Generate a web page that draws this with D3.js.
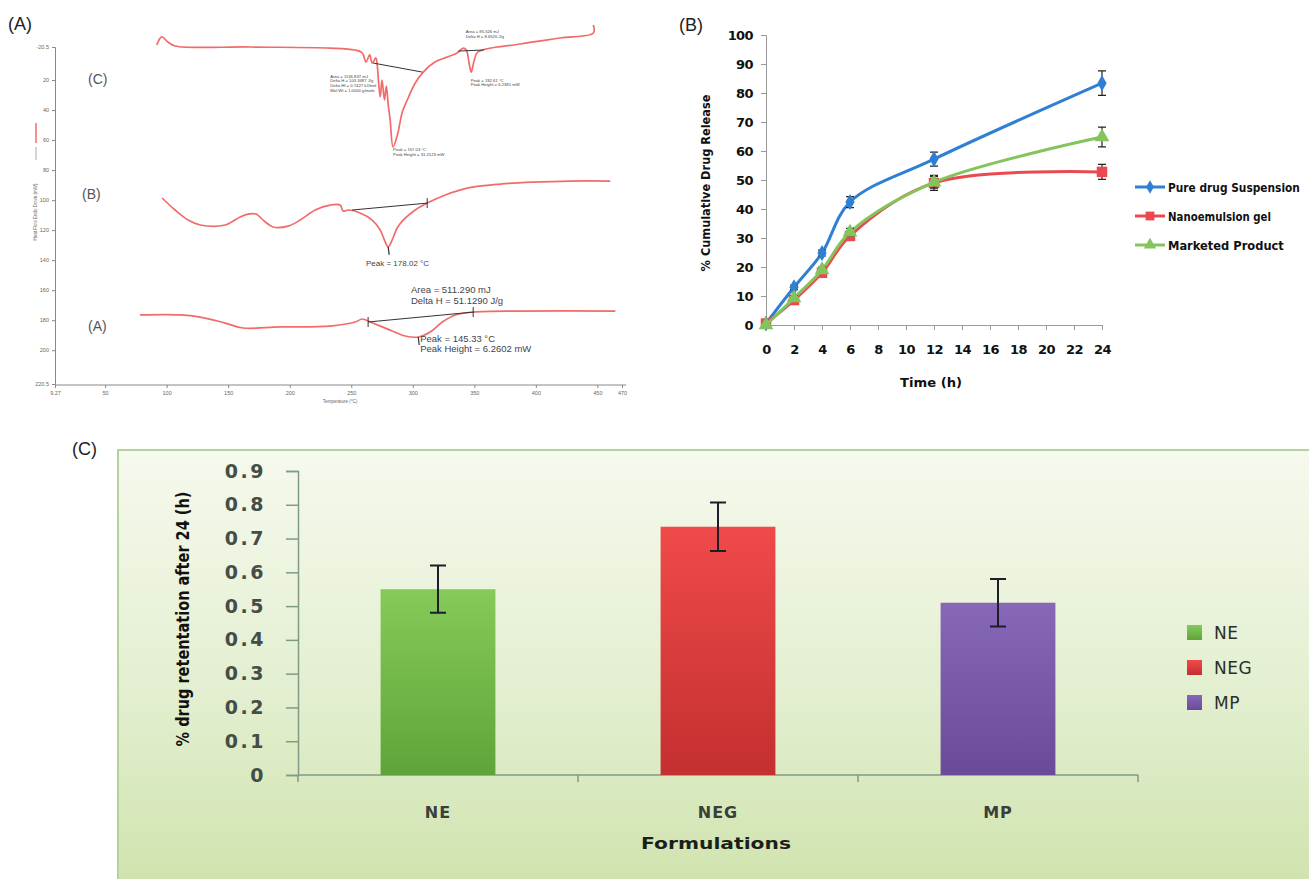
<!DOCTYPE html>
<html>
<head>
<meta charset="utf-8">
<script src="https://cdn.jsdelivr.net/npm/d3@7"></script>
<style>
  body { margin: 0; background: #fff; }
  svg { display: block; font-family: "Liberation Sans", Arial, sans-serif; }
</style>
</head>
<body>
<svg id="fig" width="1309" height="879"></svg>
<script>
// ---------- (A) DSC thermograms : [temperature, heat flow] ----------
var dscTempTicks = [9.27, 50, 100, 150, 200, 250, 300, 350, 400, 450, 470];
var dscFlowTicks = [-2, 20, 40, 60, 80, 100, 120, 140, 160, 180, 200, 222.5];
var dscFlowLabels = ["-20.5", "20", "40", "60", "80", "100", "120", "140", "160", "180", "200", "220.5"];

var dscCurveC = [[92, -3.3], [96, -8.7], [101, -5.3], [107, -2.7], [168, -2], [233, -1.3], [253, 0],
  [259, 2], [262, 8], [265, 3.3], [267, 8.7], [270, 5.3], [271, 9.3], [273.5, 31.3], [275, 20],
  [277, 33.3], [278.5, 24], [280, 36], [281.6, 46.6], [284, 64.6], [287.5, 56.6], [291.5, 41.3],
  [295.5, 33.3], [302, 22], [308.5, 14.7], [318, 8], [328, 4.7], [336, 2], [341, -1.3], [343.5, 0],
  [346, 10], [347.5, 14.7], [350, 6.7], [353, 1.3], [387.3, -4], [419.8, -8], [446.7, -11.3], [446.7, -16.7]];
var dscCurveB = [[96.3, 98.6], [106.8, 106.6], [117.4, 113.3], [127.2, 116.6], [147.5, 116.6], [159.7, 111.3],
  [166.2, 109.3], [172.7, 109.3], [179.2, 113.9], [186.5, 117.9], [198.7, 117.3], [208.5, 113.3],
  [220.7, 106.6], [232.8, 103.3], [241, 103.3], [243.4, 107.3], [247.5, 106.6], [257.2, 108.6],
  [267, 113.3], [273.5, 119.9], [277.6, 127.9], [280, 131.2], [283.3, 126.5], [287.3, 118.6],
  [292.2, 113.3], [302, 106.6], [311.7, 102], [326.4, 96.6], [344.2, 92], [371, 89.3], [398, 88],
  [428, 87.3], [460.5, 87.3]];
var dscCurveA = [[78.4, 176.5], [110.9, 176.5], [127.2, 177.9], [147.5, 181.9], [162.1, 185.2], [192, 184.5],
  [232.8, 183.9], [253.2, 181.2], [259, 179.2], [265.4, 181.2], [281.6, 186.6], [293.8, 190.5],
  [304.4, 191.2], [314.1, 187.9], [324, 181.2], [334.5, 176.5], [349.1, 174.6], [387.3, 173.9], [464.6, 173.9]];
var dscBaselines = [
  [[267.8, 8.7], [307.7, 14.7]],
  [[337, 0.7], [358, 0]],
  [[250.7, 106.6], [311.7, 102]],
  [[263.7, 181.2], [349.1, 174.6]]
];
var dscEndMarks = [[311.7, 102], [263.7, 181.2], [349.1, 174.6]];
var dscPeakMarks = [[280, 131.2], [304.4, 191.2]];
var dscCurveLabels = [["(C)", 88, 19], ["(B)", 82, 96], ["(A)", 88, 184]];
var dscNotes = [
  { at: [233, 18.5], size: 4.2, lines: ["Area = 1136.837 mJ", "Delta H = 103.3487 J/g", "Delta Hf = 0.7427 kJ/mol", "Mol Wt = 1.0000 g/mole"] },
  { at: [284, 67.5], size: 4.2, lines: ["Peak = 157.03 \u00B0C", "Peak Height = 31.2123 mW"] },
  { at: [343, -11], size: 4.2, lines: ["Area = 95.526 mJ", "Delta H = 8.6526 J/g"] },
  { at: [347, 21], size: 4.2, lines: ["Peak = 192.61 \u00B0C", "Peak Height = 6.2381 mW"] },
  { at: [262, 144], size: 8, lines: ["Peak = 178.02 \u00B0C"] },
  { at: [298.5, 162], size: 9.5, lines: ["Area = 511.290 mJ", "Delta H = 51.1290 J/g"] },
  { at: [306, 194.5], size: 9.5, lines: ["Peak = 145.33 \u00B0C", "Peak Height = 6.2602 mW"] }
];

// ---------- (B) release profile ----------
var times = [0, 2, 4, 6, 12, 24];
var pureDrug = [0.5, 13, 24.8, 42.4, 57.2, 83.4];
var pureDrugErr = [0, 0.8, 1, 1.9, 2.4, 4.2];
var nanoGel = [0.5, 8.6, 18, 30.7, 49, 52.8];
var nanoGelErr = [0, 0.8, 1, 1.3, 2.6, 2.6];
var marketed = [0, 9.3, 19, 32, 49.2, 64.8];
var marketedErr = [0, 0.8, 1, 1.3, 2, 3.4];
var releaseNames = ["Pure drug Suspension", "Nanoemulsion gel", "Marketed Product"];
var releaseTicksX = [0, 2, 4, 6, 8, 10, 12, 14, 16, 18, 20, 22, 24];
var releaseTicksY = [0, 10, 20, 30, 40, 50, 60, 70, 80, 90, 100];

// ---------- (C) retention ----------
var formulations = ["NE", "NEG", "MP"];
var retention = [0.55, 0.735, 0.51];
var retentionErr = [0.07, 0.072, 0.07];
var retentionTicks = [0, 0.1, 0.2, 0.3, 0.4, 0.5, 0.6, 0.7, 0.8, 0.9];

var svg = d3.select("#fig");
var defs = svg.append("defs");

// squeeze a text horizontally so it spans `width` px (condensed-font look)
function squeeze(sel, x, y, width, rot) {
  var w = sel.node().getComputedTextLength();
  sel.attr("transform", "translate(" + x + "," + y + ")" + (rot ? " rotate(-90)" : "") +
    " scale(" + (width / w) + ",1)");
  return sel;
}

function panelLabel(x, y, t) {
  svg.append("text").attr("x", x).attr("y", y).attr("font-size", 18)
    .attr("fill", "#222").text(t);
}
panelLabel(8, 30, "(A)");
panelLabel(679, 31, "(B)");
panelLabel(72, 455, "(C)");

// =================== panel A ===================
var xA = d3.scaleLinear().domain([9.27, 470]).range([55, 622]);
var yA = d3.scaleLinear().domain([-2, 222.5]).range([47, 384]);
var gA = svg.append("g");

var axA = gA.append("g").attr("transform", "translate(0,385)")
  .call(d3.axisBottom(xA).tickValues(dscTempTicks).tickSize(3).tickPadding(3)
    .tickFormat(function(d) { return String(d); }));
var ayA = gA.append("g").attr("transform", "translate(55,0)")
  .call(d3.axisLeft(yA).tickValues(dscFlowTicks).tickSize(3).tickPadding(3)
    .tickFormat(function(d, i) { return dscFlowLabels[i]; }));
[axA, ayA].forEach(function(a) {
  a.select(".domain").attr("stroke", "#888");
  a.selectAll(".tick line").attr("stroke", "#888");
  a.selectAll("text").attr("font-size", 5.5).attr("fill", "#666");
});
axA.select(".domain").attr("d", "M55,0H626");

gA.append("text").attr("x", 340).attr("y", 403).attr("font-size", 4.5).attr("fill", "#666")
  .attr("text-anchor", "middle").text("Temperature (\u00B0C)");
gA.append("text").attr("transform", "translate(37,212) rotate(-90)").attr("font-size", 4.5)
  .attr("fill", "#666").attr("text-anchor", "middle").text("Heat Flow Endo Down (mW)");
gA.append("line").attr("x1", 36).attr("x2", 36).attr("y1", 123).attr("y2", 143)
  .attr("stroke", "#f26b6b").attr("stroke-width", 1.5);
gA.append("line").attr("x1", 36).attr("x2", 36).attr("y1", 147).attr("y2", 160)
  .attr("stroke", "#888").attr("stroke-width", 0.7);

var lineA = d3.line().x(function(d) { return xA(d[0]); }).y(function(d) { return yA(d[1]); })
  .curve(d3.curveCatmullRom.alpha(0.5));
[dscCurveC, dscCurveB, dscCurveA].forEach(function(c) {
  gA.append("path").attr("d", lineA(c)).attr("fill", "none")
    .attr("stroke", "#f26b6b").attr("stroke-width", 1.7);
});
dscBaselines.forEach(function(b) {
  gA.append("line").attr("x1", xA(b[0][0])).attr("y1", yA(b[0][1]))
    .attr("x2", xA(b[1][0])).attr("y2", yA(b[1][1])).attr("stroke", "#333").attr("stroke-width", 1);
});
dscEndMarks.forEach(function(p) {
  gA.append("line").attr("x1", xA(p[0])).attr("x2", xA(p[0]))
    .attr("y1", yA(p[1]) - 5).attr("y2", yA(p[1]) + 5).attr("stroke", "#333").attr("stroke-width", 1);
});
dscPeakMarks.forEach(function(p) {
  gA.append("line").attr("x1", xA(p[0])).attr("x2", xA(p[0]) + 1)
    .attr("y1", yA(p[1])).attr("y2", yA(p[1]) + 8).attr("stroke", "#333").attr("stroke-width", 1.2);
});
dscCurveLabels.forEach(function(l) {
  gA.append("text").attr("x", l[1]).attr("y", yA(l[2]) + 5).attr("font-size", 14)
    .attr("fill", "#555").text(l[0]);
});
dscNotes.forEach(function(n) {
  var t = gA.append("text").attr("font-size", n.size).attr("fill", "#444");
  n.lines.forEach(function(s, i) {
    t.append("tspan").attr("x", xA(n.at[0])).attr("y", yA(n.at[1]) + i * n.size * 1.1).text(s);
  });
});

// =================== panel B ===================
var xB = d3.scaleLinear().domain([0, 24]).range([766, 1102]);
var yB = d3.scaleLinear().domain([0, 100]).range([325, 35]);
var gB = svg.append("g");
var fontB = "'DejaVu Sans', sans-serif";

var axB = gB.append("g").attr("transform", "translate(0,325)")
  .call(d3.axisBottom(xB).tickValues(releaseTicksX).tickSize(5).tickPadding(15));
var ayB = gB.append("g").attr("transform", "translate(766,0)")
  .call(d3.axisLeft(yB).tickValues(releaseTicksY).tickSize(5).tickPadding(8));
[axB, ayB].forEach(function(a) {
  a.select(".domain").attr("stroke", "#9a9a9a");
  a.selectAll(".tick line").attr("stroke", "#9a9a9a");
  a.selectAll("text").attr("font-family", fontB).attr("font-weight", "bold")
    .attr("font-size", 13).attr("fill", "#111").attr("letter-spacing", -0.6);
});
squeeze(gB.append("text").attr("text-anchor", "middle")
  .attr("font-family", fontB).attr("font-weight", "bold").attr("font-size", 12).attr("fill", "#111")
  .text("% Cumulative Drug Release"), 710, 183, 177, true);
squeeze(gB.append("text").attr("text-anchor", "middle")
  .attr("font-family", fontB).attr("font-weight", "bold").attr("font-size", 12).attr("fill", "#111")
  .text("Time (h)"), 931, 387, 62);

var releaseSeries = [
  { vals: pureDrug, err: pureDrugErr, color: "#2f80d2", sym: d3.symbolDiamond, size: 75 },
  { vals: nanoGel, err: nanoGelErr, color: "#ea4a4f", sym: d3.symbolSquare, size: 110 },
  { vals: marketed, err: marketedErr, color: "#84c45c", sym: d3.symbolTriangle, size: 95 }
];
var lineB = d3.line().x(function(d) { return xB(d[0]); }).y(function(d) { return yB(d[1]); })
  .curve(d3.curveCatmullRom.alpha(0.5));
releaseSeries.forEach(function(s) {
  var pts = times.map(function(t, i) { return [t, s.vals[i], s.err[i]]; });
  gB.append("path").attr("d", lineB(pts)).attr("fill", "none")
    .attr("stroke", s.color).attr("stroke-width", 3);
  pts.forEach(function(p) {
    if (p[2] > 0) {
      var x = xB(p[0]), y0 = yB(p[1] - p[2]), y1 = yB(p[1] + p[2]);
      gB.append("path").attr("d", "M" + x + "," + y0 + "V" + y1 + "M" + (x - 4) + "," + y0 + "h8M" + (x - 4) + "," + y1 + "h8")
        .attr("stroke", "#222").attr("stroke-width", 1.2).attr("fill", "none");
    }
    gB.append("path").attr("d", d3.symbol().type(s.sym).size(s.size)())
      .attr("transform", "translate(" + xB(p[0]) + "," + yB(p[1]) + ")").attr("fill", s.color);
  });
});
var legB = gB.append("g");
releaseSeries.forEach(function(s, i) {
  var y = 187 + i * 29;
  legB.append("line").attr("x1", 1135).attr("x2", 1165).attr("y1", y).attr("y2", y)
    .attr("stroke", s.color).attr("stroke-width", 3);
  legB.append("path").attr("d", d3.symbol().type(s.sym).size(s.size * 0.7)())
    .attr("transform", "translate(1150," + y + ")").attr("fill", s.color);
  squeeze(legB.append("text").attr("font-family", fontB)
    .attr("font-weight", "bold").attr("font-size", 12).attr("fill", "#111")
    .text(releaseNames[i]), 1168, y + 4.5, [132, 103, 116][i]);
});

// =================== panel C ===================
var gC = svg.append("g");
var bg = defs.append("linearGradient").attr("id", "bgC").attr("x1", 0).attr("y1", 0).attr("x2", 0).attr("y2", 1);
bg.append("stop").attr("offset", "0%").attr("stop-color", "#f6f9ee");
bg.append("stop").attr("offset", "55%").attr("stop-color", "#e3efd0");
bg.append("stop").attr("offset", "100%").attr("stop-color", "#cfe3ad");
gC.append("rect").attr("x", 118).attr("y", 450).attr("width", 1200).attr("height", 440)
  .attr("fill", "url(#bgC)").attr("stroke", "#b3d398").attr("stroke-width", 2);

var xC = d3.scaleBand().domain(formulations).range([298, 1138]).paddingInner(0.59).paddingOuter(0.295);
var yC = d3.scaleLinear().domain([0, 0.9]).range([775, 471]);
var fontC = "'DejaVu Sans', Verdana, sans-serif";
var barColors = [["#86cb58", "#5ea43a"], ["#f04a4a", "#c42f2f"], ["#8767b8", "#6a4b9a"]];

var ayC = gC.append("g").attr("transform", "translate(298,0)")
  .call(d3.axisLeft(yC).tickValues(retentionTicks).tickSize(12).tickPadding(20)
    .tickFormat(function(d) { return d === 0 ? "0" : d3.format(".1f")(d); }));
ayC.select(".domain").attr("stroke", "#7f9a85").attr("stroke-width", 1.5);
ayC.selectAll(".tick line").attr("stroke", "#7f9a85").attr("stroke-width", 1.5);
ayC.selectAll("text").attr("font-family", fontC).attr("font-weight", "bold").attr("font-size", 19)
  .attr("fill", "#454d47").attr("letter-spacing", 2.5);

var axC = gC.append("g").attr("transform", "translate(0,775)");
axC.append("line").attr("x1", 298).attr("x2", 1138).attr("stroke", "#7f9a85").attr("stroke-width", 1.5);
d3.range(formulations.length + 1).forEach(function(i) {
  var x = xC.range()[0] + i * xC.step();
  axC.append("line").attr("x1", x).attr("x2", x).attr("y1", 0).attr("y2", 7)
    .attr("stroke", "#7f9a85").attr("stroke-width", 1.5);
});
formulations.forEach(function(f, i) {
  var g = defs.append("linearGradient").attr("id", "bar" + i).attr("x1", 0).attr("y1", 0).attr("x2", 0).attr("y2", 1);
  g.append("stop").attr("offset", "0%").attr("stop-color", barColors[i][0]);
  g.append("stop").attr("offset", "100%").attr("stop-color", barColors[i][1]);
  var x = xC(f), w = xC.bandwidth(), cx = x + w / 2;
  gC.append("rect").attr("x", x).attr("y", yC(retention[i])).attr("width", w)
    .attr("height", yC(0) - yC(retention[i])).attr("fill", "url(#bar" + i + ")");
  var y0 = yC(retention[i] - retentionErr[i]), y1 = yC(retention[i] + retentionErr[i]);
  gC.append("path").attr("d", "M" + cx + "," + y0 + "V" + y1 + "M" + (cx - 8) + "," + y0 + "h16M" + (cx - 8) + "," + y1 + "h16")
    .attr("stroke", "#1e1e2a").attr("stroke-width", 2).attr("fill", "none");
  gC.append("text").attr("x", cx).attr("y", 818).attr("text-anchor", "middle")
    .attr("font-family", fontC).attr("font-weight", "bold").attr("font-size", 16)
    .attr("fill", "#3a3f3a").attr("letter-spacing", 1).text(f);
  gC.append("rect").attr("x", 1187).attr("y", 625 + i * 35).attr("width", 15).attr("height", 15)
    .attr("fill", "url(#bar" + i + ")");
  gC.append("text").attr("x", 1214).attr("y", 639 + i * 35).attr("font-family", fontC)
    .attr("font-size", 17).attr("fill", "#2a2f2a").attr("letter-spacing", 0.5).text(f);
});
squeeze(gC.append("text").attr("text-anchor", "middle")
  .attr("font-family", fontC).attr("font-weight", "bold").attr("font-size", 16).attr("fill", "#1b1f1b")
  .text("Formulations"), 716, 849, 150);
squeeze(gC.append("text").attr("text-anchor", "middle")
  .attr("font-family", fontC).attr("font-weight", "bold").attr("font-size", 17).attr("fill", "#111")
  .text("% drug retentation after 24 (h)"), 189, 619, 255, true);
</script>
</body>
</html>
